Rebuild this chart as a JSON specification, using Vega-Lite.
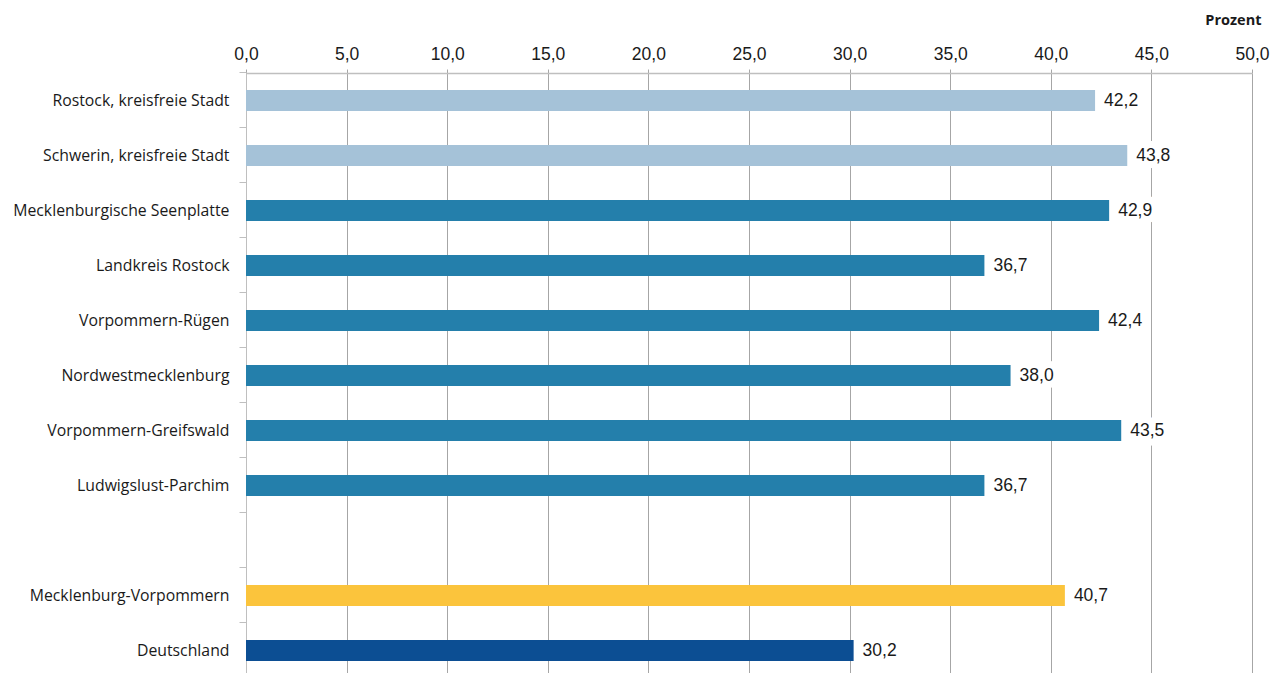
{
  "$schema": "https://vega.github.io/schema/vega-lite/v6.json",
  "autosize": "none",
  "width": 1006,
  "height": 605,
  "padding": {"left": 246, "top": 73, "right": 28, "bottom": 0},
  "background": "white",
  "config": {
    "view": {"stroke": null},
    "locale": {"number": {"decimal": ",", "thousands": ".", "grouping": [3], "currency": ["", " €"]}}
  },
  "data": {
    "values": [
      {"region": "Rostock, kreisfreie Stadt", "anteil": 42.2, "gruppe": "kreisfrei"},
      {"region": "Schwerin, kreisfreie Stadt", "anteil": 43.8, "gruppe": "kreisfrei"},
      {"region": "Mecklenburgische Seenplatte", "anteil": 42.9, "gruppe": "Landkreis"},
      {"region": "Landkreis Rostock", "anteil": 36.7, "gruppe": "Landkreis"},
      {"region": "Vorpommern-Rügen", "anteil": 42.4, "gruppe": "Landkreis"},
      {"region": "Nordwestmecklenburg", "anteil": 38.0, "gruppe": "Landkreis"},
      {"region": "Vorpommern-Greifswald", "anteil": 43.5, "gruppe": "Landkreis"},
      {"region": "Ludwigslust-Parchim", "anteil": 36.7, "gruppe": "Landkreis"},
      {"region": "Mecklenburg-Vorpommern", "anteil": 40.7, "gruppe": "Land"},
      {"region": "Deutschland", "anteil": 30.2, "gruppe": "Bund"}
    ]
  },
  "encoding": {
    "y": {
      "field": "region",
      "type": "nominal",
      "sort": null,
      "scale": {
        "domain": ["Rostock, kreisfreie Stadt", "Schwerin, kreisfreie Stadt", "Mecklenburgische Seenplatte", "Landkreis Rostock", "Vorpommern-Rügen", "Nordwestmecklenburg", "Vorpommern-Greifswald", "Ludwigslust-Parchim", "", "Mecklenburg-Vorpommern", "Deutschland"],
        "paddingInner": 0.618,
        "paddingOuter": 0.309
      },
      "axis": {
        "title": null,
        "bandPosition": -0.809,
        "domainColor": "#bfbfbf",
        "tickColor": "#bfbfbf",
        "tickSize": 7,
        "labelPadding": 10,
        "labelFont": "Open Sans",
        "labelFontSize": 15.8,
        "labelColor": "#1a1a1a",
        "labelLimit": 400
      }
    },
    "x": {
      "field": "anteil",
      "type": "quantitative",
      "scale": {"domain": [0, 50], "nice": false},
      "axis": {
        "orient": "top",
        "values": [0, 5, 10, 15, 20, 25, 30, 35, 40, 45, 50],
        "format": ".1f",
        "title": "Prozent",
        "titleFont": "Open Sans",
        "titleFontWeight": "bold",
        "titleFontSize": 14.5,
        "titleColor": "#1a1a1a",
        "titleAnchor": "end",
        "titleAlign": "right",
        "titleBaseline": "middle",
        "titleX": 1015,
        "titleY": -53,
        "labelFont": "Liberation Sans",
        "labelFontSize": 17.5,
        "labelColor": "#1a1a1a",
        "labelFlush": false,
        "labelPadding": 6,
        "tickSize": 4,
        "tickColor": "#a6a6a6",
        "domainColor": "#bfbfbf",
        "domainWidth": 1.5,
        "grid": true,
        "gridColor": "#a6a6a6",
        "gridWidth": 1
      }
    }
  },
  "layer": [
    {
      "mark": {"type": "bar"},
      "encoding": {
        "color": {
          "field": "gruppe",
          "type": "nominal",
          "legend": null,
          "scale": {
            "domain": ["kreisfrei", "Landkreis", "Land", "Bund"],
            "range": ["#a5c2d8", "#247fab", "#fbc43c", "#0c4e93"]
          }
        }
      }
    },
    {
      "mark": {"type": "text", "align": "left", "baseline": "middle", "dx": 9, "font": "Liberation Sans", "fontSize": 17.5, "color": "white", "stroke": "white", "strokeWidth": 14, "strokeJoin": "round"},
      "encoding": {
        "text": {"field": "anteil", "type": "quantitative", "format": ".1f"}
      }
    },
    {
      "mark": {"type": "text", "align": "left", "baseline": "middle", "dx": 9, "font": "Liberation Sans", "fontSize": 17.5, "color": "#1a1a1a"},
      "encoding": {
        "text": {"field": "anteil", "type": "quantitative", "format": ".1f"}
      }
    }
  ]
}
